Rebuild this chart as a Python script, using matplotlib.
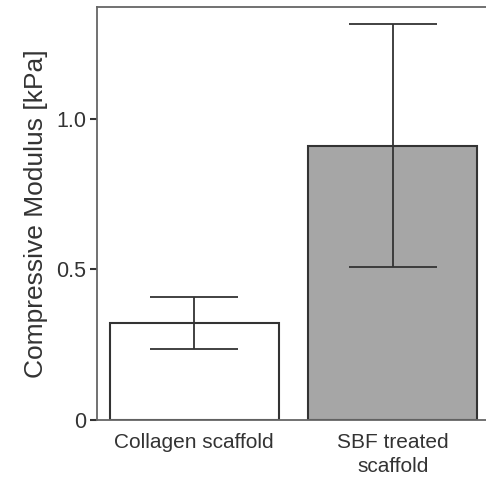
import matplotlib.pyplot as plt
import numpy as np

plt.rcParams['font.family'] = ['Liberation Sans', 'DejaVu Sans']

# data
groups = ['Collagen scaffold', 'SBF treated\nscaffold']
means = [0.322, 0.910]
errors = [0.086, 0.404]
fills = ['white', '#a6a6a6']

fig = plt.figure(figsize=(4.86, 4.84), dpi=100)
ax = fig.add_axes([97/486, 1-420/484, 390/486, (420-7)/484])

x = np.arange(len(groups))
ax.bar(x, means, width=0.853, color=fills, edgecolor='#333333', linewidth=1.5, zorder=2)
ax.errorbar(x, means, yerr=errors, fmt='none', ecolor='#333333', elinewidth=1.3,
            capsize=32, capthick=1.3, zorder=3)

ax.set_xlim(-0.49, 1.475)
ax.set_ylim(0, 1.37)
ax.set_xticks(x)
ax.set_xticklabels(groups, fontsize=15, color='#333333', linespacing=1.35)
ax.set_yticks([0, 0.5, 1.0])
ax.set_yticklabels(['0', '0.5', '1.0'], fontsize=15.5, color='#333333')
ax.set_ylabel('Compressive Modulus [kPa]', fontsize=19, color='#333333', labelpad=6)

ax.tick_params(axis='x', length=0, pad=9)
ax.tick_params(axis='y', length=5, width=1.5, color='#333333', pad=3)
for side in ['left', 'top', 'bottom']:
    ax.spines[side].set_color('#666666')
    ax.spines[side].set_linewidth(1.3)
ax.spines['right'].set_visible(False)

fig.savefig('out.png', dpi=100)
